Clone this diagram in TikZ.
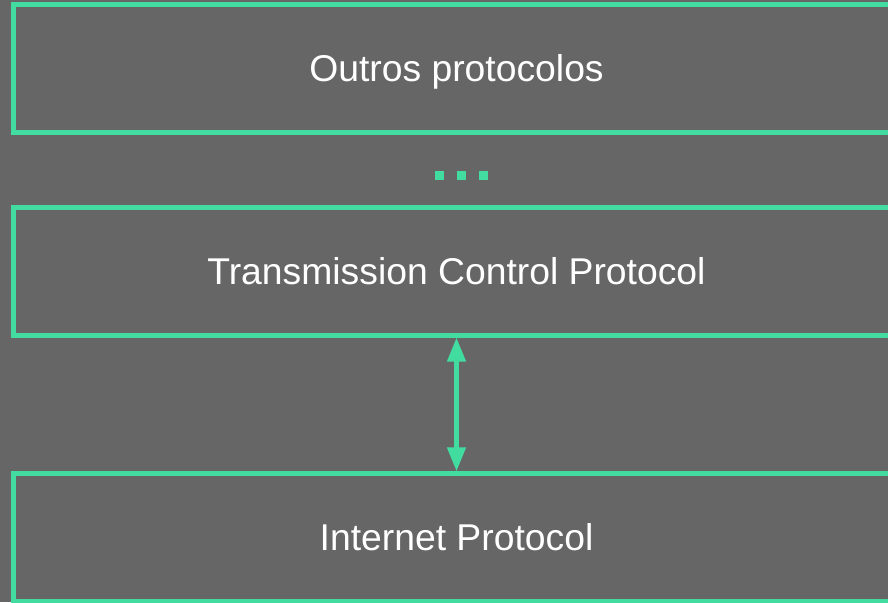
\documentclass[tikz,border=0pt]{standalone}
\usepackage{fontspec}
\setmainfont{Liberation Sans}
\usetikzlibrary{arrows.meta}
\definecolor{bg}{HTML}{666666}
\definecolor{mint}{HTML}{42DBA0}

\begin{document}
\begin{tikzpicture}[x=1pt,y=-1pt,
  layer/.style={draw=mint, line width=4.2pt, rectangle,
    minimum width=886pt, minimum height=128pt, inner sep=0pt,
    text=white, font=\fontsize{37.3}{44}\selectfont,
    text height=26.5pt, text depth=0pt},
  dotbox/.style={fill=mint, rectangle, minimum size=9.5pt, inner sep=0pt},
  link/.style={draw=mint, line width=4.5pt,
    {Triangle[width=18pt,length=24pt]}-{Triangle[width=18pt,length=24pt]}}
]
\useasboundingbox (0,0) rectangle (888,602);
\clip (0,0) rectangle (888,602);
\fill[bg] (0,0) rectangle (888,602);

% protocol layers (they run past the right edge)
\node[layer] (outros) at (456.5,68.5) {Outros protocolos};
\node[layer] (tcp) at (456.5,271.5) {Transmission Control Protocol};
\node[layer] (ip) at (456.5,537.5) {Internet Protocol};

% ellipsis between the upper layers
\node[dotbox] (d1) at (439.5,175.5) {};
\node[dotbox] (d2) at (461.5,175.5) {};
\node[dotbox] (d3) at (483.5,175.5) {};

% TCP <-> IP
\draw[link] (tcp.south) -- (ip.north);
\end{tikzpicture}
\end{document}
